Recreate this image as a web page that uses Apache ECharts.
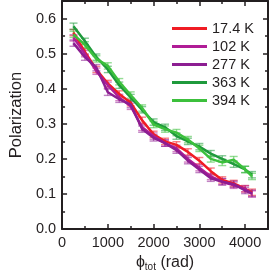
<!DOCTYPE html>
<html><head><meta charset="utf-8">
<script src="https://cdn.jsdelivr.net/npm/echarts@6/dist/echarts.min.js"></script>
<style>html,body{margin:0;padding:0;background:#fff}#c{width:270px;height:277px}</style>
</head><body><div id="c"></div>
<script>
const phi = [250, 500, 750, 1000, 1250, 1500, 1750, 2000, 2250, 2500, 2750, 3000, 3250, 3500, 3750, 4000, 4150];
const names = ['17.4 K', '102 K', '277 K', '363 K', '394 K'];
const p17 = [0.560, 0.505, 0.455, 0.415, 0.385, 0.360, 0.310, 0.270, 0.250, 0.240, 0.220, 0.195, 0.165, 0.140, 0.130, 0.115, 0.105];
const p102 = [0.545, 0.500, 0.450, 0.410, 0.375, 0.350, 0.290, 0.265, 0.245, 0.230, 0.200, 0.175, 0.150, 0.135, 0.125, 0.115, 0.100];
const p277 = [0.530, 0.490, 0.460, 0.390, 0.370, 0.355, 0.285, 0.260, 0.245, 0.225, 0.195, 0.170, 0.145, 0.135, 0.128, 0.110, 0.102];
const p363 = [0.578, 0.535, 0.490, 0.455, 0.410, 0.375, 0.340, 0.305, 0.290, 0.265, 0.250, 0.235, 0.215, 0.200, 0.185, 0.170, 0.155];
const p394 = [0.555, 0.525, 0.485, 0.465, 0.420, 0.382, 0.345, 0.298, 0.285, 0.275, 0.255, 0.230, 0.200, 0.190, 0.198, 0.170, 0.150];
const errs = [0.009, 0.009, 0.009, 0.009, 0.009];
const xTicks = [0, 1000, 2000, 3000, 4000];
const yTicks = [0.0, 0.1, 0.2, 0.3, 0.4, 0.5, 0.6];
const colors = ['#f01c24', '#b01c96', '#8c1e92', '#1f9a3c', '#3cc03c'];
const series = [p17, p102, p277, p363, p394];

const font = 'Liberation Sans, Arial, Helvetica, sans-serif';
const chart = echarts.init(document.getElementById('c'), null, {renderer: 'canvas'});
const opt = {
  animation: false,
  grid: {left: 49, right: 2, top: 1, bottom: 47},
  legend: {
    left: 167, top: 16, orient: 'vertical', itemWidth: 35, itemHeight: 3, itemGap: 3,
    icon: 'rect', textStyle: {fontFamily: font, fontSize: 14.5, color: '#231f20', lineHeight: 15},
    data: names
  },
  xAxis: {
    type: 'value', min: 0, max: 4500, interval: 1000,
    name: '{p|ϕ}{s|tot} (rad)', nameLocation: 'middle', nameGap: 22,
    nameTextStyle: {fontFamily: font, fontSize: 16, color: '#231f20',
      rich: {p: {fontFamily: font, fontSize: 16, color: '#231f20'}, s: {fontFamily: font, fontSize: 10, color: '#231f20', verticalAlign: 'bottom', padding: [8, 0, 0, 0]}}},
    axisLine: {show: true, onZero: false, lineStyle: {color: '#231f20', width: 2}},
    axisTick: {show: true, inside: true, length: 5, lineStyle: {color: '#231f20', width: 1.5}},
    minorTick: {show: true, splitNumber: 2, length: 3, lineStyle: {color: '#231f20', width: 1.5}},
    splitLine: {show: false},
    axisLabel: {fontFamily: font, fontSize: 14.5, color: '#231f20', margin: 6, showMaxLabel: false,
      formatter: v => xTicks.includes(v) ? String(v) : ''}
  },
  yAxis: {
    type: 'value', min: 0, max: 0.65, interval: 0.1,
    name: 'Polarization', nameLocation: 'middle', nameGap: 36,
    nameTextStyle: {fontFamily: font, fontSize: 16.5, color: '#231f20'},
    axisLine: {show: true, onZero: false, lineStyle: {color: '#231f20', width: 2}},
    axisTick: {show: true, inside: true, length: 5, lineStyle: {color: '#231f20', width: 1.5}},
    minorTick: {show: true, splitNumber: 2, length: 3, lineStyle: {color: '#231f20', width: 1.5}},
    splitLine: {show: false},
    axisLabel: {fontFamily: font, fontSize: 14.5, color: '#231f20', margin: 6, showMaxLabel: false,
      formatter: v => yTicks.some(t => Math.abs(t - v) < 1e-9) ? v.toFixed(1) : ''}
  },
  series: []
};
// mirrored axes for box frame
opt.xAxis = [opt.xAxis, Object.assign({}, opt.xAxis, {position: 'top', name: '', axisLabel: {show: false}})];
opt.yAxis = [opt.yAxis, Object.assign({}, opt.yAxis, {position: 'right', name: '', axisLabel: {show: false}})];

series.forEach((s, i) => {
  const data = phi.map((x, j) => [x, s[j]]);
  opt.series.push({
    name: names[i], type: 'line', data: data, showSymbol: false, symbol: 'none', z: 3,
    itemStyle: {color: colors[i]},
    lineStyle: {color: colors[i], width: 2.5}
  });
  opt.series.push({
    type: 'custom', z: 2, silent: true,
    data: phi.map((x, j) => [x, s[j], errs[i]]),
    renderItem: (params, api) => {
      const x = api.value(0), y = api.value(1), e = api.value(2);
      const hi = api.coord([x, y + e]), lo = api.coord([x, y - e]);
      const w = 4;
      const st = {stroke: colors[i], lineWidth: 1.4, opacity: 0.55};
      return {type: 'group', children: [
        {type: 'line', shape: {x1: hi[0], y1: hi[1], x2: lo[0], y2: lo[1]}, style: st},
        {type: 'line', shape: {x1: hi[0] - w, y1: hi[1], x2: hi[0] + w, y2: hi[1]}, style: st},
        {type: 'line', shape: {x1: lo[0] - w, y1: lo[1], x2: lo[0] + w, y2: lo[1]}, style: st}
      ]};
    }
  });
});
chart.setOption(opt);
</script></body></html>
